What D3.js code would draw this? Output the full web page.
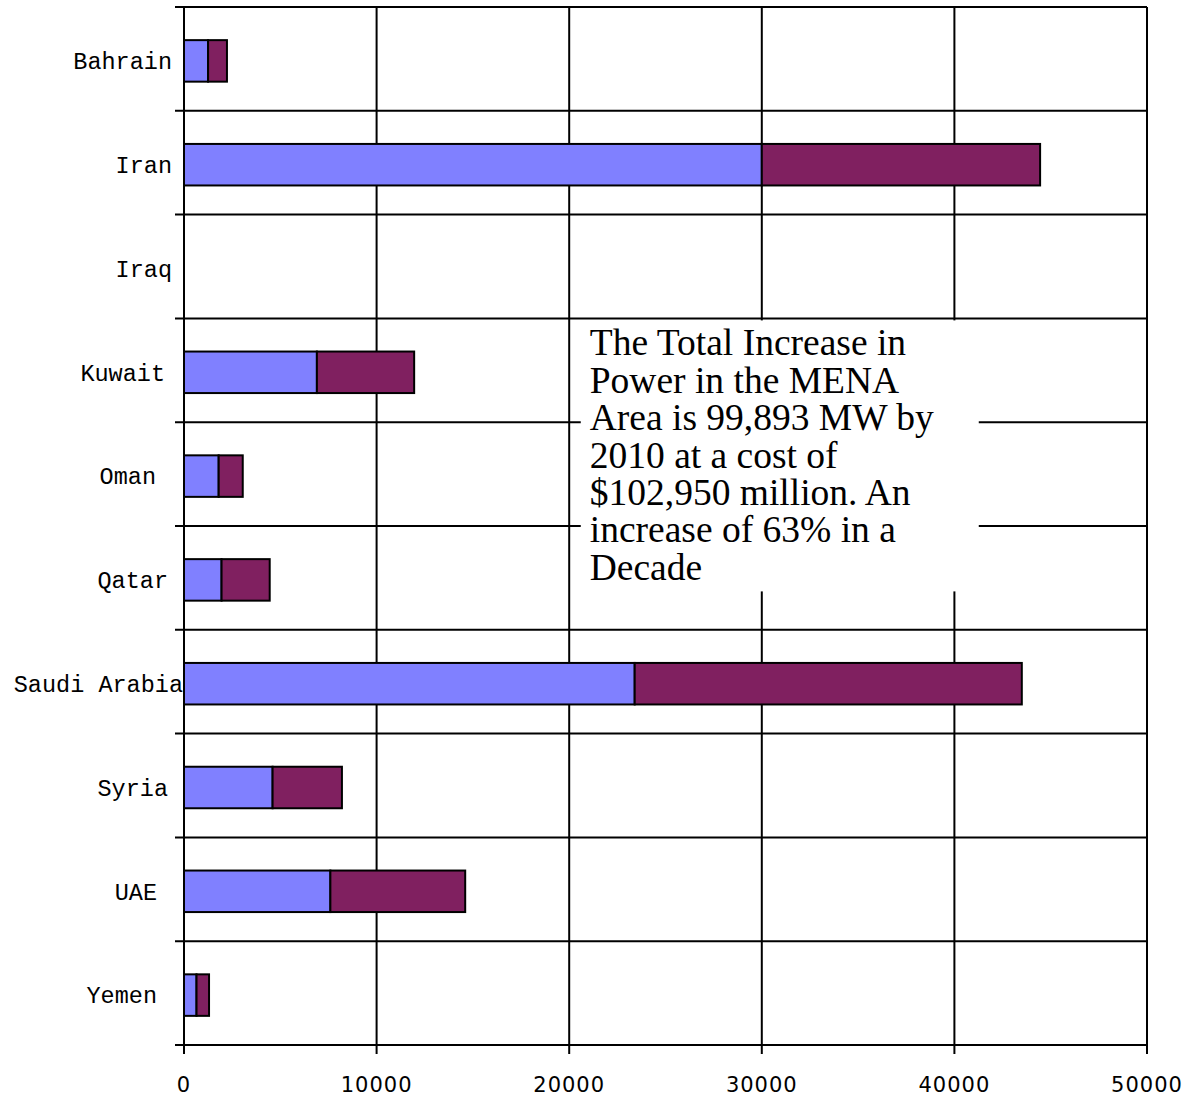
<!DOCTYPE html>
<html>
<head>
<meta charset="utf-8">
<script src="https://cdn.jsdelivr.net/npm/d3@7"></script>
<style>
  body { margin: 0; background: #fff; }
  .cat { font-family: 'Liberation Mono', 'Courier New', monospace; font-size: 23.5px; fill: #000; }
  .tick-x { font-family: 'DejaVu Sans', sans-serif; font-size: 21px; letter-spacing: 1px; fill: #000; }
  .note { font-family: 'Liberation Serif', 'Times New Roman', serif; font-size: 37.5px; fill: #000; }
</style>
</head>
<body>
<div id="chart"></div>
<script>
'use strict';
// Chart data
const countries = ['Bahrain', 'Iran', 'Iraq', 'Kuwait', 'Oman', 'Qatar', 'Saudi Arabia', 'Syria', 'UAE', 'Yemen']
const existingMW = [1250, 30000, 0, 6900, 1800, 1950, 23400, 4600, 7600, 650]
const addedMW = [980, 14450, 0, 5050, 1250, 2500, 20100, 3600, 7000, 650]
const xTicks = [0, 10000, 20000, 30000, 40000, 50000]
const noteLines = [
    'The Total Increase in',
    'Power in the MENA',
    'Area is 99,893 MW by',
    '2010 at a cost of',
    '$102,950 million. An',
    'increase of 63% in a',
    'Decade'
]
// label right-edge nudges (px) to mimic the original's uneven label placement
const labelNudge = { 'Kuwait': -7, 'Oman': -16, 'Qatar': -4, 'Syria': -4, 'UAE': -15, 'Yemen': -15, 'Saudi Arabia': 11 }

const W = 1194, H = 1100
const margin = { top: 7, right: 47, bottom: 55, left: 184 }
const width = W - margin.left - margin.right
const height = H - margin.top - margin.bottom

const x = d3.scaleLinear().domain([0, 50000]).range([0, width])
const y = d3.scaleBand().domain(countries).range([0, height]).paddingInner(0.6).paddingOuter(0.3)
const step = y.step()

const svg = d3.select('#chart').append('svg')
    .attr('width', W)
    .attr('height', H)
    .append('g')
    .attr('transform', `translate(${margin.left},${margin.top})`)

// Horizontal grid lines at band boundaries
const bounds = d3.range(countries.length + 1).map(i => i * step)
svg.append('g').selectAll('line').data(bounds).join('line')
    .attr('x1', -9).attr('x2', width)
    .attr('y1', d => d).attr('y2', d => d)
    .attr('stroke', '#000').attr('stroke-width', 2)

// Vertical grid lines + tick marks
svg.append('g').selectAll('line').data(xTicks).join('line')
    .attr('x1', d => x(d)).attr('x2', d => x(d))
    .attr('y1', 0).attr('y2', height + 9)
    .attr('stroke', '#000').attr('stroke-width', 2)

// Stacked bars
const rows = countries.map((c, i) => ({ c, a: existingMW[i], b: addedMW[i] }))
const barG = svg.append('g').selectAll('g').data(rows.filter(d => d.a + d.b > 0)).join('g')
    .attr('transform', d => `translate(0,${y(d.c) + 2})`)
barG.append('rect')
    .attr('x', 0).attr('width', d => x(d.a))
    .attr('height', y.bandwidth())
    .attr('fill', '#8080ff').attr('stroke', '#000').attr('stroke-width', 2)
barG.append('rect')
    .attr('x', d => x(d.a)).attr('width', d => x(d.a + d.b) - x(d.a))
    .attr('height', y.bandwidth())
    .attr('fill', '#802060').attr('stroke', '#000').attr('stroke-width', 2)

// Category labels
svg.append('g').selectAll('text').data(countries).join('text')
    .attr('class', 'cat')
    .attr('text-anchor', 'end')
    .attr('x', d => -12 + (labelNudge[d] || 0))
    .attr('y', d => y(d) + y.bandwidth() / 2 + 2)
    .attr('dy', '0.35em')
    .text(d => d)

// X tick labels
svg.append('g').selectAll('text').data(xTicks).join('text')
    .attr('class', 'tick-x')
    .attr('text-anchor', 'middle')
    .attr('x', d => x(d))
    .attr('y', height + 40)
    .attr('dy', '0.35em')
    .text(d => d)

// Annotation box
const noteX = x(20600), noteY = y('Kuwait') - y.step() * 0.3 + 2
svg.append('rect')
    .attr('x', noteX).attr('y', noteY)
    .attr('width', 398).attr('height', 271)
    .attr('fill', '#fff')
svg.append('g').selectAll('text').data(noteLines).join('text')
    .attr('class', 'note')
    .attr('x', noteX + 9)
    .attr('y', (d, i) => noteY + 35 + i * 37.4)
    .text(d => d)
</script>
</body>
</html>
